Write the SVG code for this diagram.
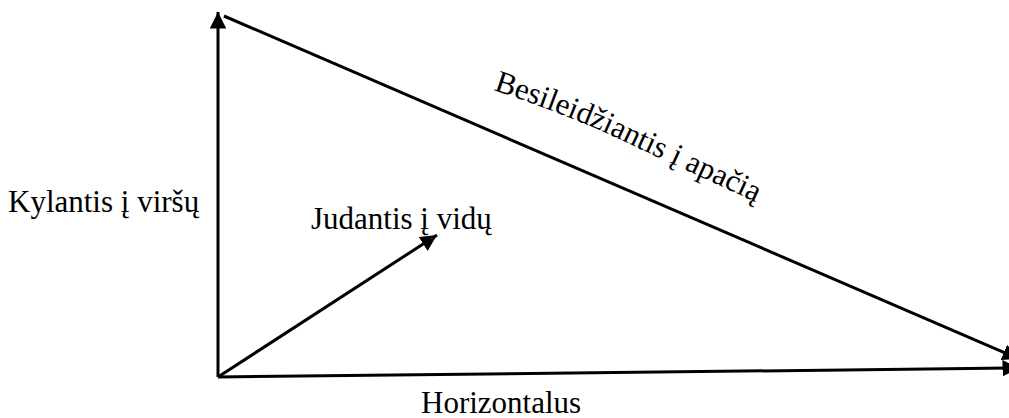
<svg xmlns="http://www.w3.org/2000/svg" width="1009" height="418" viewBox="0 0 1009 418">
<style>
.t{font-family:"Liberation Serif","Times New Roman",serif;font-size:31px;fill:#000}
.c{stroke:#000;stroke-width:3;fill:none}
</style>
<defs>
<marker id="ah" viewBox="0 0 10 10" refX="10" refY="5" markerWidth="5.5" markerHeight="5.5" orient="auto" markerUnits="strokeWidth">
<path d="M0,0 L10,5 L0,10 z" fill="#000"/>
</marker>
<path id="curve" d="M493,90 Q573,116 638,148 L790,218"/>
</defs>
<g id="connectors">
<line class="c" x1="218" y1="377" x2="218" y2="12" marker-end="url(#ah)"/>
<line class="c" x1="224" y1="16" x2="1019" y2="359" marker-end="url(#ah)"/>
<line class="c" x1="218" y1="377" x2="1019" y2="368" marker-end="url(#ah)"/>
<line class="c" x1="218" y1="377" x2="437" y2="235" marker-end="url(#ah)"/>
</g>
<g id="kylantis"><text class="t" x="8" y="212">Kylantis į viršų</text></g>
<g id="judantis"><text class="t" x="311" y="229">Judantis į vidų</text></g>
<g id="horizontalus"><text class="t" x="421" y="413">Horizontalus</text></g>
<g id="besileidziantis"><text class="t"><textPath href="#curve">Besileidžiantis į apačią</textPath></text></g>
</svg>
